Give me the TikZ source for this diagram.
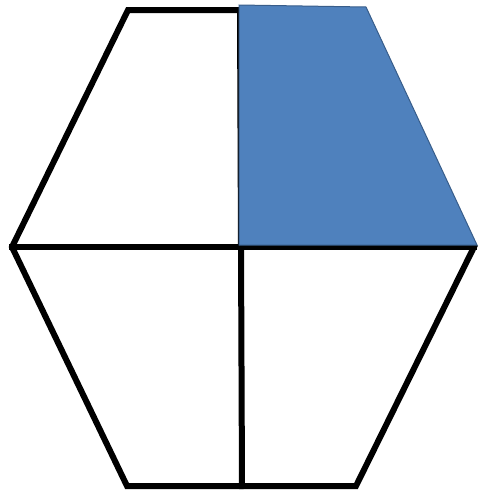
\documentclass[tikz,border=0pt]{standalone}
\definecolor{fillblue}{HTML}{4F81BD}
\definecolor{edgeblue}{HTML}{385D8A}
\tikzset{blackedge/.style={line width=6pt, line join=miter, line cap=rect, black},
  bluequarter/.style={fill=fillblue, draw=edgeblue, line width=1pt}}
\begin{document}
\begin{tikzpicture}[x=1pt,y=-1pt]
\useasboundingbox (0,0) rectangle (479,496);
\coordinate (TL) at (128,10);
\coordinate (TM) at (240,10);
\coordinate (L) at (12,247);
\coordinate (R) at (474,247);
\coordinate (C) at (241,247);
\coordinate (BL) at (127,486);
\coordinate (BR) at (356,486);
\coordinate (BM) at (242,486);
\draw[blackedge] (TM) -- (TL) -- (L) -- (BL) -- (BR) -- (R);
\draw[blackedge] (L) -- (R);
\draw[blackedge] (C) -- (BM);
\draw[blackedge] (TM) -- (C);
\fill[bluequarter] (239,5) -- (366,7) -- (477,245) -- (239,245) -- cycle;
\end{tikzpicture}
\end{document}
